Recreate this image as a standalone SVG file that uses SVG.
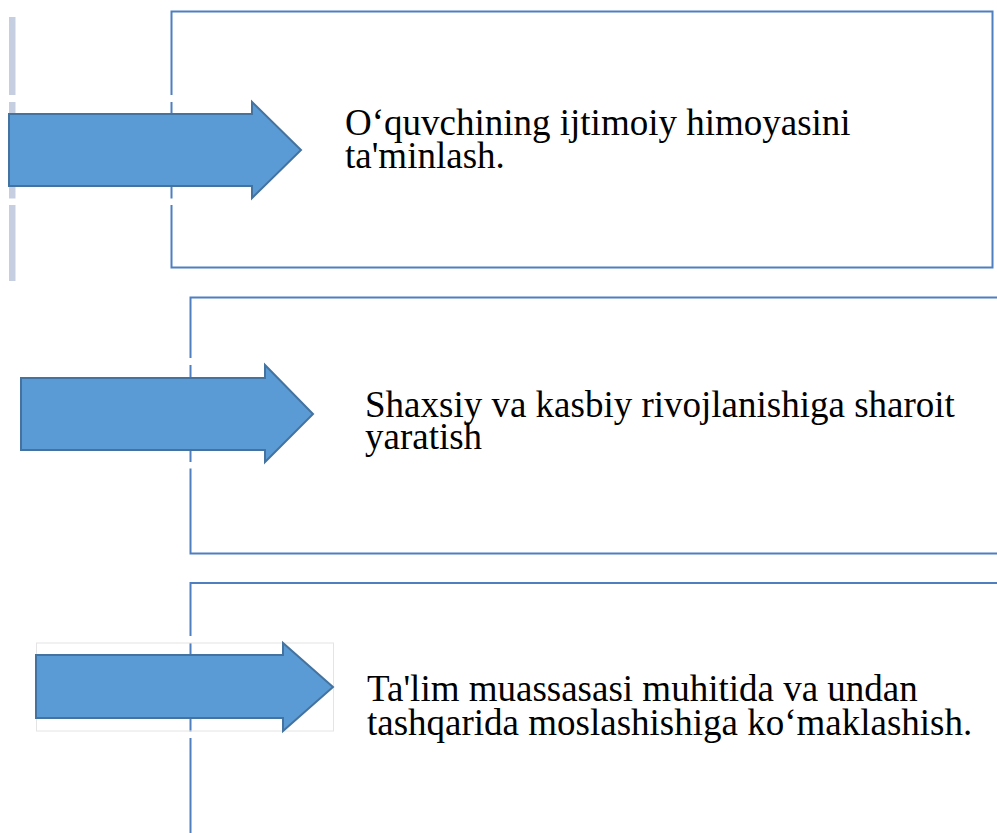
<svg xmlns="http://www.w3.org/2000/svg" width="997" height="833" viewBox="0 0 997 833">
<style>
.box{fill:none;stroke:#4f7fbf;stroke-width:2}
.arrow{fill:#5b9bd5;stroke:#44739f;stroke-width:2;stroke-linejoin:miter}
.gap{fill:#ffffff}
.txt{font-family:"Liberation Serif","Times New Roman",serif;font-size:37px;fill:#000000}
</style>
<rect width="997" height="833" fill="#ffffff"/>
<g id="side-bar">
<rect x="9" y="17" width="6.5" height="264" fill="#c6cfe2"/>
</g>
<g id="node1">
<rect class="box" x="171.5" y="11.5" width="821" height="256"/>
<rect class="gap" x="0" y="95" width="180" height="7"/>
<rect class="gap" x="0" y="198.5" width="180" height="6.5"/>
<path class="arrow" d="M9,114 H252 V102 L301,150 L252,198 V186 H9 Z"/>
<text class="txt" x="345" y="134.5">O‘quvchining ijtimoiy himoyasini</text>
<text class="txt" x="345" y="168">ta'minlash.</text>
</g>
<g id="node2">
<path class="box" d="M997,297.5 H190.5 V553.5 H997"/>
<rect class="gap" x="185" y="358" width="10" height="7"/>
<rect class="gap" x="185" y="462" width="10" height="6.5"/>
<path class="arrow" d="M21,378 H265 V365 L313,414 L265,462 V450 H21 Z"/>
<text class="txt" x="365" y="416.5">Shaxsiy va kasbiy rivojlanishiga sharoit</text>
<text class="txt" x="365" y="449">yaratish</text>
</g>
<g id="node3">
<path class="box" d="M997,583 H190.5 V833"/>
<rect class="gap" x="185" y="636" width="10" height="7"/>
<rect class="gap" x="185" y="731.5" width="10" height="6.5"/>
<rect x="36.5" y="643" width="297" height="88" fill="none" stroke="#e4e4e4" stroke-width="1"/>
<path class="arrow" d="M36,655 H283 V643 L333,687 L283,731 V718 H36 Z"/>
<text class="txt" x="367" y="701">Ta'lim muassasasi muhitida va undan</text>
<text class="txt" x="367" y="735">tashqarida moslashishiga ko‘maklashish.</text>
</g>
<g id="connectors"></g>
</svg>
